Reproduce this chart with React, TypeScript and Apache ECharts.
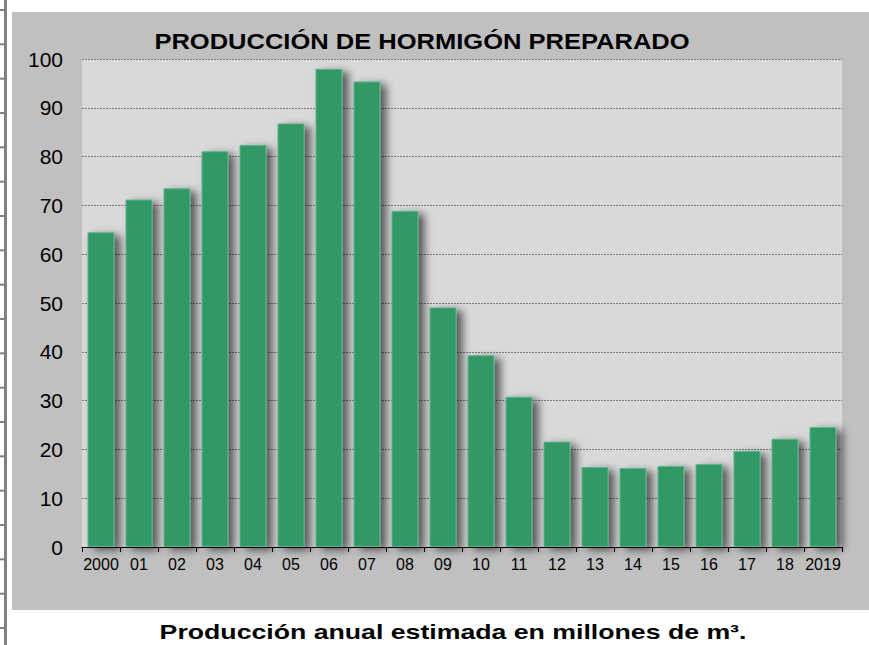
import React, { useEffect, useRef } from "react";
import * as echarts from "echarts";

const categories = ["2000", "01", "02", "03", "04", "05", "06", "07", "08", "09", "10", "11", "12", "13", "14", "15", "16", "17", "18", "2019"];
const production = [64.5, 71.2, 73.5, 81.1, 82.4, 86.8, 98.0, 95.4, 68.9, 49.1, 39.3, 30.8, 21.6, 16.4, 16.2, 16.6, 17.0, 19.7, 22.2, 24.6];
const titleText = "PRODUCCIÓN DE HORMIGÓN PREPARADO";
const subtitleText = "Producción anual estimada en millones de m³.";
const yMin = 0;
const yMax = 100;
const yStep = 10;

export default function App() {
  const ref = useRef<HTMLDivElement>(null);
  useEffect(() => {
    if (!ref.current) return;
    const chart = echarts.init(ref.current, undefined, { renderer: "svg" });
    const W = 869;
    const H = 645;
    const leftTicks: any[] = [];
    const nTicks = 19;
    for (let i = 0; i < nTicks; i++) {
      const y = 10 + (618 / (nTicks - 1)) * i;
      leftTicks.push({
        type: "line",
        shape: { x1: 0, y1: y, x2: 6, y2: y },
        style: { stroke: "#808080", lineWidth: 2 },
        silent: true,
      });
    }
    chart.setOption({
      animation: false,
      backgroundColor: "#ffffff",
      graphic: [
        {
          type: "rect",
          shape: { x: 12, y: 12, width: W - 12, height: 598 },
          style: { fill: "#c0c0c0" },
          z: -10,
          silent: true,
        },
        {
          type: "line",
          shape: { x1: 5.5, y1: 0, x2: 5.5, y2: H },
          style: { stroke: "#808080", lineWidth: 3 },
          silent: true,
        },
        ...leftTicks,
        {
          type: "text",
          x: 422,
          y: 41,
          scaleX: 1.16,
          style: {
            text: titleText,
            fontFamily: "Liberation Sans, Arial, sans-serif",
            fontWeight: "bold",
            fontSize: 22,
            fill: "#000",
            textAlign: "center",
            textVerticalAlign: "middle",
          },
          silent: true,
        },
        {
          type: "text",
          x: 453,
          y: 632,
          scaleX: 1.27,
          style: {
            text: subtitleText,
            fontFamily: "Liberation Sans, Arial, sans-serif",
            fontWeight: "bold",
            fontSize: 21,
            fill: "#000",
            textAlign: "center",
            textVerticalAlign: "middle",
          },
          silent: true,
        },
      ],
      grid: {
        left: 82,
        right: W - 842,
        top: 59,
        bottom: H - 547,
        show: true,
        backgroundColor: "#d9d9d9",
        borderWidth: 0,
      },
      xAxis: {
        type: "category",
        data: categories,
        axisLine: { show: true, lineStyle: { color: "#000", width: 1 } },
        axisTick: { show: true, length: 5, lineStyle: { color: "#000" } },
        axisLabel: {
          color: "#000",
          fontSize: 16,
          fontFamily: "Liberation Sans, Arial, sans-serif",
          margin: 9,
          interval: 0,
        },
        splitLine: { show: false },
      },
      yAxis: {
        type: "value",
        min: yMin,
        max: yMax,
        interval: yStep,
        axisLine: { show: false },
        axisTick: { show: false },
        axisLabel: {
          color: "#000",
          fontSize: 21,
          fontFamily: "Liberation Sans, Arial, sans-serif",
          margin: 19,
        },
        splitLine: {
          show: true,
          lineStyle: { color: "#7a7a7a", type: [2, 1], width: 1 },
        },
      },
      series: [
        {
          type: "bar",
          data: production,
          barWidth: 27,
          itemStyle: {
            color: "#339966",
            borderColor: "#5fb48a",
            borderWidth: 1,
            shadowColor: "rgba(0,0,0,0.6)",
            shadowBlur: 9,
            shadowOffsetX: 6,
            shadowOffsetY: 3,
          },
          emphasis: { disabled: true },
        },
      ],
    });
    return () => chart.dispose();
  }, []);
  return (
    <div
      ref={ref}
      style={{ position: "fixed", left: 0, top: 0, width: 869, height: 645 }}
    />
  );
}
